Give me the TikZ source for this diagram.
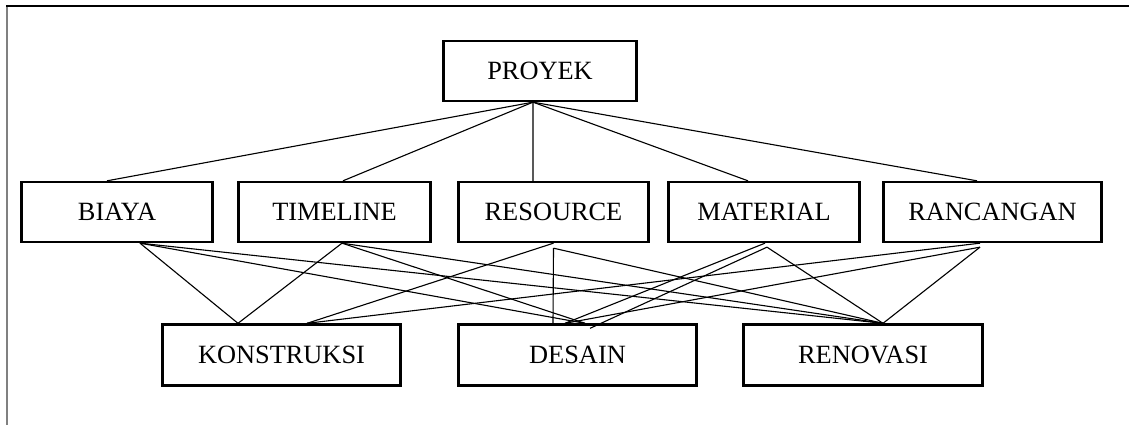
\documentclass[tikz,border=0pt]{standalone}
\usepackage{fontspec}
\setmainfont{Liberation Serif}
\begin{document}
\begin{tikzpicture}[x=0.3mm, y=-0.3mm,
    box/.style={draw, line width=2pt, inner sep=0pt, minimum height=18mm,
        font=\fontsize{22.5}{26}\selectfont},
    link/.style={line width=0.95pt}]
    \useasboundingbox (0,0) rectangle (1129,425);

    % Frame
    \draw[gray, line width=1.6pt] (7,425) -- (7,6);
    \draw[line width=0.9pt] (6,6) -- (1129,6);

    % Top node
    \node[box, minimum width=57.9mm] (proyek) at (540,71) {PROYEK};

    % Middle row
    \node[box, minimum width=57.3mm] (biaya) at (117,212) {BIAYA};
    \node[box, minimum width=57.6mm] (timeline) at (334.5,212) {TIMELINE};
    \node[box, minimum width=57mm] (resource) at (553.5,212) {RESOURCE};
    \node[box, minimum width=57.3mm] (material) at (764,212) {MATERIAL};
    \node[box, minimum width=65.4mm] (rancangan) at (992.5,212) {RANCANGAN};

    % Bottom row
    \node[box, minimum width=71.4mm, minimum height=18.3mm] (konstruksi) at (281.5,355) {KONSTRUKSI};
    \node[box, minimum width=71.4mm, minimum height=18.3mm] (desain) at (577.5,355) {DESAIN};
    \node[box, minimum width=71.7mm, minimum height=18.3mm] (renovasi) at (863,355) {RENOVASI};

    % Top links
    \draw[link] ([xshift=-2.1mm]proyek.south) -- ([xshift=-3mm]biaya.north);
    \draw[link] ([xshift=-2.1mm]proyek.south) -- ([xshift=2.55mm]timeline.north);
    \draw[link] ([xshift=-2.1mm]proyek.south) -- ([xshift=-6.15mm]resource.north);
    \draw[link] ([xshift=-2.1mm]proyek.south) -- ([xshift=-4.8mm]material.north);
    \draw[link] ([xshift=-2.1mm]proyek.south) -- ([xshift=-4.65mm]rancangan.north);

    % Bottom links
    \draw[link] ([xshift=6.9mm]biaya.south) -- ([xshift=-13.05mm]konstruksi.north);
    \draw[link] ([xshift=6.9mm]biaya.south) -- ([xshift=2.25mm]desain.north);
    \draw[link] ([xshift=6.9mm]biaya.south) -- ([xshift=6mm]renovasi.north);

    \draw[link] ([xshift=2.25mm]timeline.south) -- ([xshift=-13.05mm]konstruksi.north);
    \draw[link] ([xshift=2.25mm]timeline.south) -- ([xshift=2.25mm]desain.north);
    \draw[link] ([xshift=2.25mm]timeline.south) -- ([xshift=6mm]renovasi.north);

    \draw[link] (resource.south) -- ([xshift=7.65mm]konstruksi.north);
    \draw[link] ([yshift=-1.5mm]resource.south) -- ([xshift=-7.35mm]desain.north);
    \draw[link] ([yshift=-1.5mm]resource.south) -- ([xshift=6mm]renovasi.north);

    \draw[link] ([xshift=0.3mm]material.south) -- ([xshift=-3.75mm]desain.north);
    \draw[link] ([xshift=0.9mm,yshift=-1.2mm]material.south) -- ([xshift=3.75mm,yshift=-1.5mm]desain.north);
    \draw[link] ([xshift=0.9mm,yshift=-1.2mm]material.south) -- ([xshift=6mm]renovasi.north);

    \draw[link] ([xshift=-3.75mm]rancangan.south) -- ([xshift=7.65mm]konstruksi.north);
    \draw[link] ([xshift=-3.75mm,yshift=-1.2mm]rancangan.south) -- ([xshift=-3.75mm]desain.north);
    \draw[link] ([xshift=-3.75mm,yshift=-1.2mm]rancangan.south) -- ([xshift=6mm]renovasi.north);
\end{tikzpicture}
\end{document}
